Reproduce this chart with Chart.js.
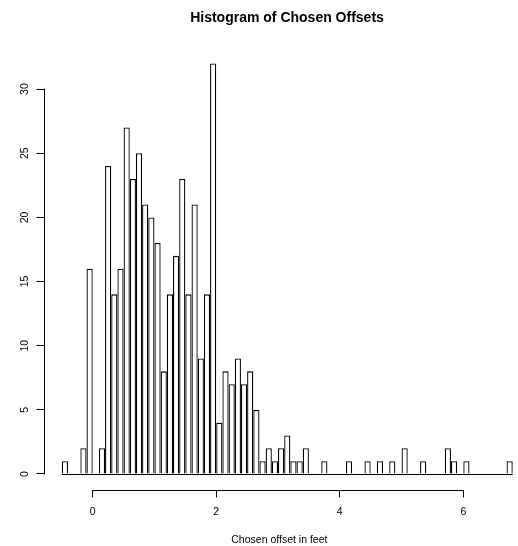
<!DOCTYPE html>
<html>
<head>
<meta charset="utf-8">
<script src="https://cdn.jsdelivr.net/npm/chart.js@4/dist/chart.umd.min.js"></script>
<style>
html,body{margin:0;padding:0;background:#fff;overflow:hidden}
#wrap{width:518px;height:546px;position:relative}
</style>
</head>
<body>
<div id="wrap"><canvas id="c" width="518" height="546"></canvas></div>
<script>
// ---- data ----
const chartTitle = "Histogram of Chosen Offsets";
const xAxisTitle = "Chosen offset in feet";
const binWidth = 0.1;
const binStarts = [
  -0.5,-0.4,-0.3,-0.2,-0.1,0.0,0.1,0.2,0.3,0.4,
  0.5,0.6,0.7,0.8,0.9,1.0,1.1,1.2,1.3,1.4,
  1.5,1.6,1.7,1.8,1.9,2.0,2.1,2.2,2.3,2.4,
  2.5,2.6,2.7,2.8,2.9,3.0,3.1,3.2,3.3,3.4,
  3.5,3.6,3.7,3.8,3.9,4.0,4.1,4.2,4.3,4.4,
  4.5,4.6,4.7,4.8,4.9,5.0,5.1,5.2,5.3,5.4,
  5.5,5.6,5.7,5.8,5.9,6.0,6.1,6.2,6.3,6.4,
  6.5,6.6,6.7
];
const counts = [
  1,0,0,2,16,0,2,24,14,16,
  27,23,25,21,20,18,8,14,17,23,
  14,21,9,14,32,4,8,7,9,7,
  8,5,1,2,1,2,3,1,1,2,
  0,0,1,0,0,0,1,0,0,1,
  0,1,0,1,0,2,0,0,1,0,
  0,0,2,1,0,1,0,0,0,0,
  0,0,1
];
const xTicks = [0, 2, 4, 6];
const yTicks = [0, 5, 10, 15, 20, 25, 30];

const FONT = "'Liberation Sans', Arial, Helvetica, sans-serif";

const points = binStarts.map((s, i) => ({ x: s + binWidth / 2, y: counts[i] }));

const rAxes = {
  id: 'rAxes',
  afterDatasetsDraw(chart) {
    const ctx = chart.ctx;
    const xs = chart.scales.x, ys = chart.scales.y;
    const ca = chart.chartArea;
    ctx.save();
    ctx.strokeStyle = '#000';
    ctx.lineWidth = 1;
    // baseline under all bins (R draws zero-height rects as lines)
    const y0 = Math.round(ys.getPixelForValue(0)) + 0.5;
    ctx.beginPath();
    ctx.moveTo(xs.getPixelForValue(binStarts[0]), y0);
    ctx.lineTo(xs.getPixelForValue(binStarts[binStarts.length - 1] + binWidth), y0);
    ctx.stroke();
    // x axis line spanning first..last tick
    const yb = Math.round(ca.bottom) + 0.5;
    ctx.beginPath();
    ctx.moveTo(xs.getPixelForValue(xTicks[0]) - 0.5, yb);
    ctx.lineTo(xs.getPixelForValue(xTicks[xTicks.length - 1]) + 0.5, yb);
    ctx.stroke();
    // y axis line spanning first..last tick
    const xl = Math.round(ca.left) + 0.5;
    ctx.beginPath();
    ctx.moveTo(xl, ys.getPixelForValue(yTicks[0]) + 0.5);
    ctx.lineTo(xl, ys.getPixelForValue(yTicks[yTicks.length - 1]) - 0.5);
    ctx.stroke();
    ctx.restore();
  },
  afterDraw(chart) {
    const ctx = chart.ctx;
    ctx.save();
    ctx.fillStyle = '#000';
    ctx.font = "bold 14px " + FONT;
    ctx.textAlign = 'center';
    ctx.textBaseline = 'middle';
    ctx.fillText(chartTitle, 287, 18);
    ctx.restore();
  }
};

new Chart(document.getElementById('c'), {
  type: 'bar',
  data: {
    datasets: [{
      data: points,
      backgroundColor: '#ffffff',
      borderColor: '#000000',
      borderWidth: 1.3,
      borderSkipped: 'start',
      barPercentage: 1,
      categoryPercentage: 1,
      inflateAmount: 0
    }]
  },
  options: {
    responsive: false,
    animation: false,
    devicePixelRatio: 1,
    layout: { padding: { top: 47, right: 2.8, left: 0, bottom: 0 } },
    plugins: {
      legend: { display: false },
      title: { display: false },
      tooltip: { enabled: false }
    },
    scales: {
      x: {
        type: 'linear',
        offset: false,
        min: -0.7965,
        max: 6.84,
        afterBuildTicks(s) { s.ticks = xTicks.map(v => ({ value: v })); },
        afterFit(s) { s.height = 55.6; },
        border: { display: false },
        grid: { display: true, offset: false, drawOnChartArea: false, drawTicks: true, tickLength: 7, color: '#000', tickColor: '#000', lineWidth: 1 },
        ticks: { color: '#000', font: { family: FONT, size: 10.5 }, padding: 8, maxRotation: 0 },
        title: { display: true, text: xAxisTitle, color: '#000', font: { family: FONT, size: 10.5 }, padding: { top: 0, bottom: 0 } }
      },
      y: {
        type: 'linear',
        min: -1.28,
        max: 33.28,
        afterBuildTicks(s) { s.ticks = yTicks.map(v => ({ value: v })); },
        afterFit(s) { s.width = 43.5; },
        border: { display: false },
        grid: { display: true, offset: false, drawOnChartArea: false, drawTicks: true, tickLength: 7, color: '#000', tickColor: '#000', lineWidth: 1 },
        ticks: { color: '#000', font: { family: FONT, size: 10.5 }, padding: 6, minRotation: 90, maxRotation: 90, crossAlign: 'center' }
      }
    }
  },
  plugins: [rAxes]
});
</script>
</body>
</html>
